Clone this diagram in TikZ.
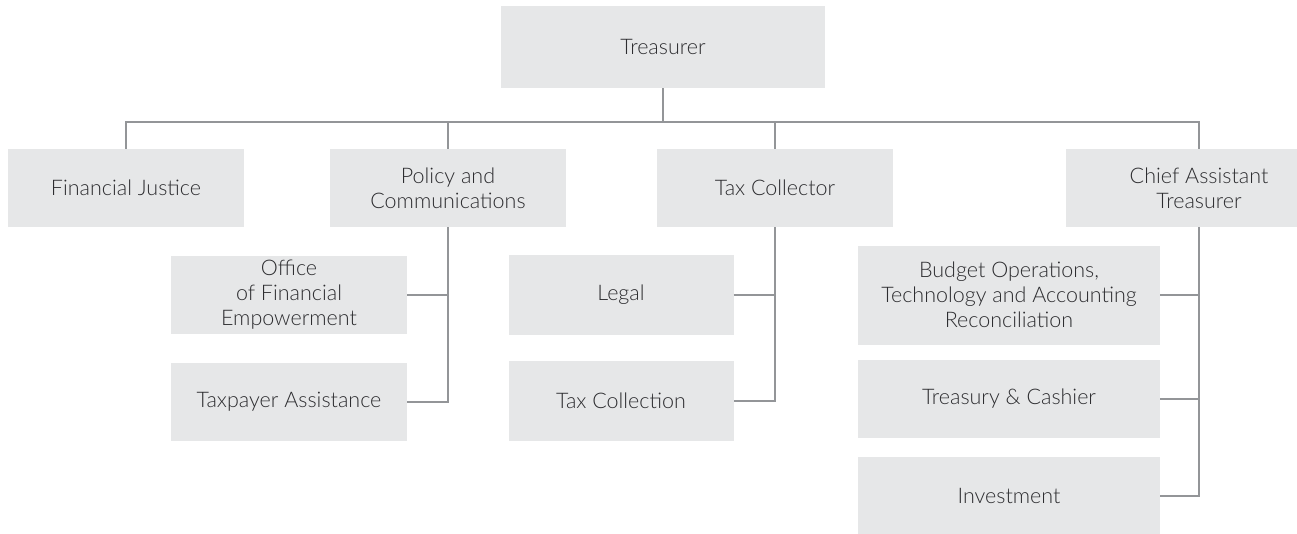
\documentclass[tikz,border=0pt]{standalone}
\usepackage{fontspec}
\setmainfont{Lato Light}
\usepackage{tikz}
\usetikzlibrary{positioning, calc}
\definecolor{BoxGrey}{RGB}{230,231,232}
\definecolor{LineGrey}{RGB}{147,149,152}
\definecolor{TextDark}{RGB}{45,45,48}

\begin{document}
\begin{tikzpicture}[x=1pt,y=-1pt,
        unit/.style={fill=BoxGrey,draw=none,text=TextDark,align=center,
                     inner sep=0pt,minimum width=236pt,minimum height=78pt,
                     font=\fontsize{21.5}{25}\selectfont},
        link/.style={draw=LineGrey,line width=1.6pt}
      ]
        \useasboundingbox (0,0) rectangle (1297,533);
        % top level
        \node[unit,minimum width=324pt,minimum height=82pt] (treasurer) at (663,47) {Treasurer};
        \node[unit] (finjust) at (126,188) {Financial Justice};
        \node[unit] (policy) at (448,188) {Policy and\\Communications};
        \node[unit] (taxcoll) at (775,188) {Tax Collector};
        \node[unit,minimum width=266pt] (chief) at (1199,188) {Chief Assistant\\Treasurer};
        % policy group
        \node[unit] (office) at (289,295) {Office\\of Financial\\Empowerment};
        \node[unit] (taxpayer) at (289,402) {Taxpayer Assistance};
        % tax collector group
        \node[unit,minimum width=225pt,minimum height=80pt] (legal) at (621,295) {Legal};
        \node[unit,minimum width=225pt,minimum height=80pt] (collection) at (621,401) {Tax Collection};
        % chief assistant group
        \node[unit,minimum width=302pt,minimum height=99pt] (budget) at (1009,295) {Budget Operations,\\Technology and Accounting\\Reconciliation};
        \node[unit,minimum width=302pt] (cashier) at (1009,399) {Treasury \& Cashier};
        \node[unit,minimum width=302pt] (invest) at (1009,496) {Investment};
        \coordinate (bus) at (663,122);
        \draw[link] (treasurer.south) -- (bus);
        \draw[link] (finjust.north) |- (bus -| chief.north) -- (chief.north);
        \draw[link] (policy.north) -- (policy.north |- bus);
        \draw[link] (taxcoll.north) -- (taxcoll.north |- bus);
        % branches
        \draw[link] (policy.south) |- (taxpayer.east);
        \draw[link] (office.east) -- (office.east -| policy.south);
        \draw[link] (taxcoll.south) |- (collection.east);
        \draw[link] (legal.east) -- (legal.east -| taxcoll.south);
        \draw[link] (chief.south) |- (invest.east);
        \draw[link] (budget.east) -- (budget.east -| chief.south);
        \draw[link] (cashier.east) -- (cashier.east -| chief.south);
      \end{tikzpicture}
\end{document}
